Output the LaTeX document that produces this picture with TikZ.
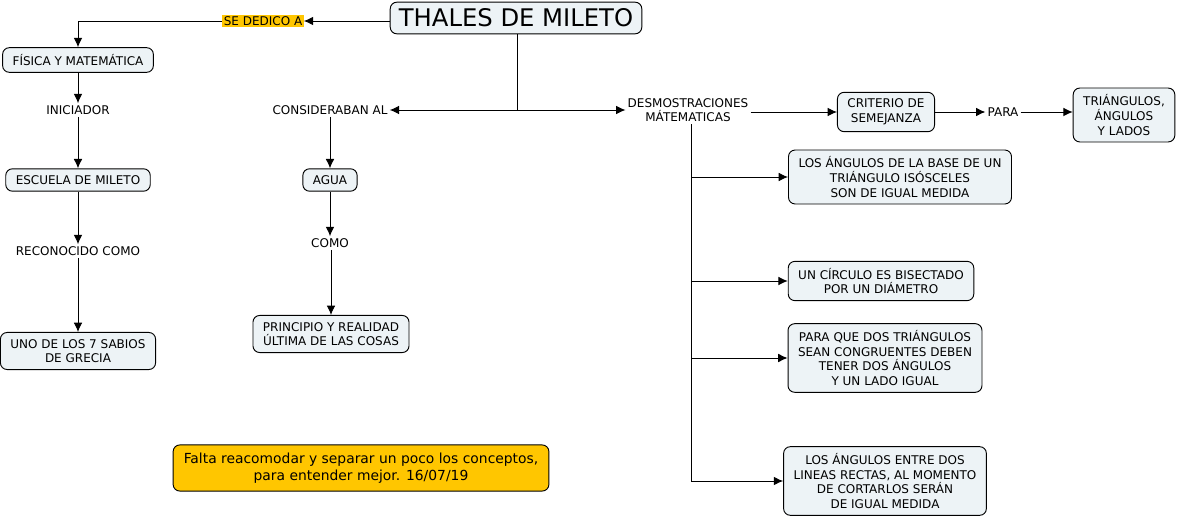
\documentclass[tikz,border=0pt]{standalone}
\usepackage{fontspec}
\setmainfont{DejaVu Sans}
\usepackage{xcolor}
\usetikzlibrary{arrows.meta}
\definecolor{boxfill}{HTML}{EDF3F6}
\definecolor{notefill}{HTML}{FFC600}

\tikzset{
  concept/.style={draw, rounded corners=5pt, fill=boxfill, align=center, font=\fontsize{9}{11}\selectfont, inner xsep=7.5pt, inner ysep=5pt, line width=0.7pt},
  phrase/.style={align=center, font=\fontsize{9}{11}\selectfont, inner sep=1.5pt},
  link/.style={-{Latex[length=7pt,width=6.5pt]}, line width=0.7pt}
}

\begin{document}
\begin{tikzpicture}[x=0.75pt, y=-0.75pt]
\useasboundingbox (0,0) rectangle (1179,520);

\node[concept, font=\fontsize{18.2}{22}\selectfont, inner xsep=6.5pt, inner ysep=5pt] at (516,18) (thales) {THALES DE MILETO};
\node[phrase, fill=notefill, inner sep=1pt] at (263,21) (dedico) {SE DEDICO A};
\node[concept] at (78,60) (fisica) {FÍSICA Y MATEMÁTICA};
\node[phrase] at (78,110) (iniciador) {INICIADOR};
\node[concept] at (78,180) (escuela) {ESCUELA DE MILETO};
\node[phrase] at (78,251) (reconocido) {RECONOCIDO COMO};
\node[concept] at (78,351) (sabios) {UNO DE LOS 7 SABIOS\\DE GRECIA};

\node[phrase] at (330,110) (consideraban) {CONSIDERABAN AL};
\node[concept] at (330,180) (agua) {AGUA};
\node[phrase] at (330,243) (como) {COMO};
\node[concept] at (331,334) (principio) {PRINCIPIO Y REALIDAD\\ÚLTIMA DE LAS COSAS};

\node[phrase] at (688,110) (demos) {DESMOSTRACIONES\\MÁTEMATICAS};
\node[concept] at (886,112) (criterio) {CRITERIO DE\\SEMEJANZA};
\node[phrase] at (1003,112) (para) {PARA};
\node[concept] at (1124,115) (triangulos) {TRIÁNGULOS,\\ÁNGULOS\\Y LADOS};
\node[concept] at (900,177) (isosceles) {LOS ÁNGULOS DE LA BASE DE UN\\TRIÁNGULO ISÓSCELES\\SON DE IGUAL MEDIDA};
\node[concept] at (881,281) (circulo) {UN CÍRCULO ES BISECTADO\\POR UN DIÁMETRO};
\node[concept] at (885,358) (congruentes) {PARA QUE DOS TRIÁNGULOS\\SEAN CONGRUENTES DEBEN\\TENER DOS ÁNGULOS\\Y UN LADO IGUAL};
\node[concept] at (885,481) (rectas) {LOS ÁNGULOS ENTRE DOS\\LINEAS RECTAS, AL MOMENTO\\DE CORTARLOS SERÁN\\DE IGUAL MEDIDA};

\node[concept, fill=notefill, font=\fontsize{10.4}{12.5}\selectfont, inner xsep=8pt, inner ysep=6pt] at (361,468) (nota) {Falta reacomodar y separar un poco los conceptos,\\para entender mejor. 16/07/19};

\coordinate (split) at (517,110);
\coordinate (trunk) at (691,0);

\draw[link] (thales.west |- dedico) -- (dedico.east);
\draw[link] (dedico.west) -| (fisica.north);
\draw[link] (fisica) -- (iniciador);
\draw[link] (iniciador) -- (escuela);
\draw[link] (escuela) -- (reconocido);
\draw[link] (reconocido) -- (sabios);

\draw[line width=0.7pt] (thales.south -| split) -- (split);
\draw[link] (split) -- (consideraban.east);
\draw[link] (split) -- (demos.west);
\draw[link] (consideraban.south -| agua) -- (agua);
\draw[link] (agua) -- (como);
\draw[link] (como.south -| principio) -- (principio);

\draw[link] (demos.east |- criterio) -- (criterio);
\draw[link] (criterio) -- (para);
\draw[link] (para) -- (para -| triangulos.west);
\draw[link] (demos.south -| trunk) |- (isosceles.west);
\draw[link] (demos.south -| trunk) |- (circulo.west);
\draw[link] (demos.south -| trunk) |- (congruentes.west);
\draw[link] (demos.south -| trunk) |- (rectas.west);

\end{tikzpicture}
\end{document}
